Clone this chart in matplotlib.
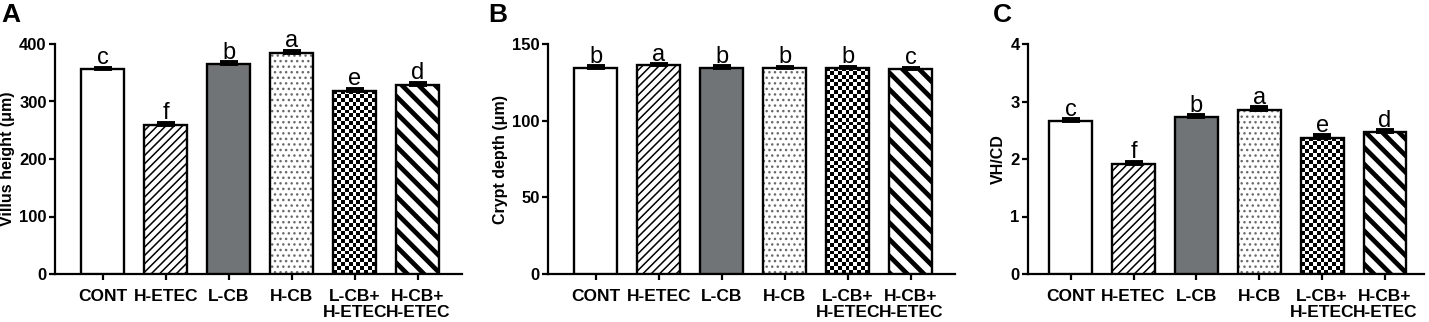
import numpy as np
import matplotlib
matplotlib.use("Agg")
import matplotlib.pyplot as plt

plt.rcParams['font.family'] = ['Liberation Sans', 'DejaVu Sans']

categories = ["CONT", "H-ETEC", "L-CB", "H-CB", "L-CB+\nH-ETEC", "H-CB+\nH-ETEC"]

villus_height = [356, 259, 366, 384, 319, 329]
villus_err = [3, 4, 2, 4, 3, 3]
villus_letters = ["c", "f", "b", "a", "e", "d"]

crypt_depth = [134.5, 136.0, 134.5, 134.5, 134.5, 133.5]
crypt_err = [1.0, 0.8, 1.0, 0.8, 0.8, 0.8]
crypt_letters = ["b", "a", "b", "b", "b", "c"]

vhcd = [2.66, 1.92, 2.73, 2.86, 2.37, 2.47]
vhcd_err = [0.03, 0.03, 0.03, 0.04, 0.04, 0.03]
vhcd_letters = ["c", "f", "b", "a", "e", "d"]

W, H = 1429, 322
fig = plt.figure(figsize=(W / 100, H / 100), dpi=100)

panels = [
    dict(left=55, right=462, xl=(-0.76, 5.70), vals=villus_height, err=villus_err,
         letters=villus_letters, ylim=400, ticks=[0, 100, 200, 300, 400],
         ylabel="Villus height (\u03bcm)", tag="A", tagx=1),
    dict(left=548, right=955, xl=(-0.76, 5.70), vals=crypt_depth, err=crypt_err,
         letters=crypt_letters, ylim=150, ticks=[0, 50, 100, 150],
         ylabel="Crypt depth (\u03bcm)", tag="B", tagx=488),
    dict(left=1028, right=1424, xl=(-0.68, 5.62), vals=vhcd, err=vhcd_err,
         letters=vhcd_letters, ylim=4, ticks=[0, 1, 2, 3, 4],
         ylabel="VH/CD", tag="C", tagx=993),
]

bottom_px, top_px = 274, 44
width = 0.68
gray = "#717476"

for p in panels:
    ax = fig.add_axes([p['left'] / W, 1 - bottom_px / H,
                       (p['right'] - p['left']) / W, (bottom_px - top_px) / H])
    ax.set_xlim(*p['xl'])
    ax.set_ylim(0, p['ylim'])
    x = np.arange(len(categories))
    vals = p['vals']
    fc = ["white", "white", gray, "white", "none", "white"]
    hcol = ["white", "black", gray, "#6a6a6a", "black", "black"]
    hatches = [None, "////", None, "...", None, "\\\\"]
    fills = ax.bar(x, vals, width=width, color=fc, edgecolor=hcol,
                   linewidth=0, zorder=3)
    for b, h in zip(fills, hatches):
        if h:
            b.set_hatch(h)
    try:
        fills[1].set_hatch_linewidth(1.1)
        fills[3].set_hatch_linewidth(1.0)
        fills[5].set_hatch_linewidth(3.4)
    except Exception:
        pass
    # checkerboard via clipped image
    b = fills[4]
    fig.canvas.draw()
    p0 = ax.transData.transform((x[4] - width / 2, 0))
    p1 = ax.transData.transform((x[4] + width / 2, vals[4]))
    wpx = p1[0] - p0[0]
    hpx = p1[1] - p0[1]
    nx = 11
    sq = wpx / nx
    ny = int(round(hpx / sq))
    ii, jj = np.meshgrid(np.arange(nx), np.arange(ny))
    board = ((ii + jj) % 2).astype(float)
    im = ax.imshow(board, cmap="gray", vmin=0, vmax=1, interpolation="nearest",
                   extent=(x[4] - width / 2, x[4] + width / 2, 0, ny * sq * vals[4] / hpx),
                   origin="lower", aspect="auto", zorder=2)
    im.set_clip_path(b)
    # outlines
    ax.bar(x, vals, width=width, color="none", edgecolor="black",
           linewidth=1.7, zorder=3.5)
    ax.set_xlim(*p['xl'])
    ax.set_ylim(0, p['ylim'])

    ax.errorbar(x, vals, yerr=[np.zeros(len(vals)), p['err']], fmt="none",
                ecolor="black", elinewidth=1.6, capsize=6.5, capthick=2.8, zorder=4)
    for xi, v, e, t in zip(x, vals, p['err'], p['letters']):
        ax.annotate(t, (xi, v + e), xytext=(0, -1), textcoords="offset points",
                    ha="center", va="bottom", fontsize=17, zorder=5)

    for s in ["top", "right"]:
        ax.spines[s].set_visible(False)
    for s in ["left", "bottom"]:
        ax.spines[s].set_linewidth(1.6)
    ax.set_yticks(p['ticks'])
    ax.set_xticks(x)
    ax.set_xticklabels(categories, fontsize=12.5, fontweight="bold", linespacing=1.1)
    ax.tick_params(axis="both", direction="out", length=4, width=1.6)
    ax.tick_params(axis="y", labelsize=12, pad=2)
    ax.tick_params(axis="x", pad=7)
    for lab in ax.get_yticklabels():
        lab.set_fontweight("bold")
    ax.set_ylabel(p['ylabel'], fontsize=11.5, fontweight="bold", labelpad=3)
    fig.text(p['tagx'] / W, 1 - 3 / H, p['tag'], fontsize=19, fontweight="bold",
             ha="left", va="top")

fig.savefig("out.png", dpi=100)
